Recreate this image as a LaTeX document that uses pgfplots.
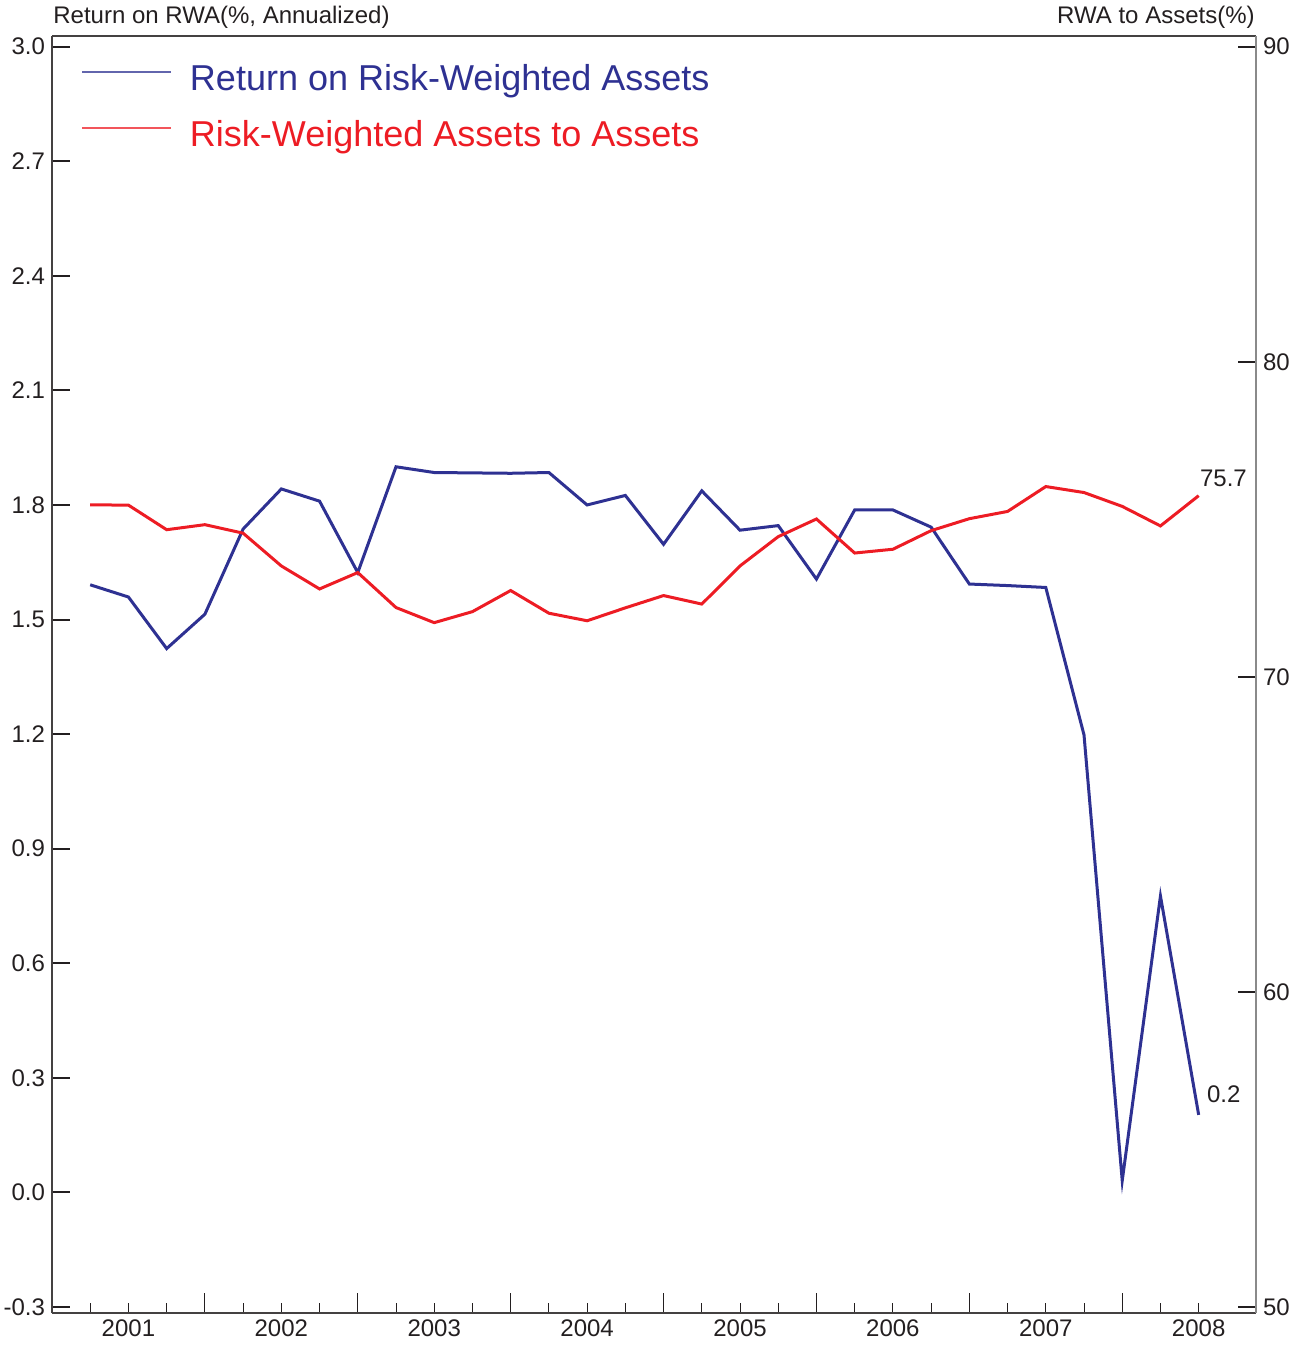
\documentclass[border=0pt]{standalone}
\usepackage{pgfplots}
\pgfplotsset{compat=1.18}
\usepackage{fontspec}
\setmainfont{Liberation Sans}
\definecolor{rblue}{HTML}{2E3192}
\definecolor{rred}{HTML}{ED1C24}
\definecolor{txt}{HTML}{231F20}
\definecolor{axgray}{HTML}{8A8A8A}
\begin{document}
\begin{tikzpicture}
\pgfplotsset{
  base/.style={scale only axis, width=602pt, height=638.5pt,
    xmin=0, xmax=31.5,
    /pgf/number format/assume math mode=true,
    tick label style={font=\fontsize{12}{14}\selectfont, text=txt},
    axis line style={line width=0.7pt, color=txt!85},
    clip=false},
  lefty/.style={ymin=-0.3157, ymax=3.028},
  righty/.style={ymin=49.81, ymax=90.34},
}
% axis 1: box (top, bottom, left), short x ticks with year labels, blue series, legend
\begin{axis}[base, lefty,
  axis x line*=box, axis y line*=left,
  ytick=\empty,
  xtick={1,...,30},
  xticklabels={,2001,,,,2002,,,,2003,,,,2004,,,,2005,,,,2006,,,,2007,,,,2008},
  xtick pos=bottom, xtick align=inside,
  major tick length=5pt,
  tick style={line width=0.5pt, color=txt},
  legend cell align=left,
  legend style={at={(rel axis cs:0,1)}, anchor=north west, xshift=14.5pt, yshift=-14.5pt,
    draw=none, fill=none, inner sep=0pt, row sep=11.5pt,
    nodes={inner sep=0pt, text height=12.5pt, text depth=4pt},
    font=\fontsize{18}{21}\selectfont},
  legend columns=1,
]
\coordinate (sw) at (rel axis cs:0,0);
\coordinate (ne) at (rel axis cs:1,1);
\addplot[rblue, line width=1.5pt, line join=miter, forget plot] coordinates {
(1,1.591) (2,1.559) (3,1.424) (4,1.514) (5,1.737) (6,1.842) (7,1.810) (8,1.623)
(9,1.900) (10,1.885) (11,1.884) (12,1.883) (13,1.885) (14,1.800) (15,1.825)
(16,1.697) (17,1.837) (18,1.734) (19,1.746) (20,1.606) (21,1.787) (22,1.787)
(23,1.742) (24,1.593) (25,1.589) (26,1.584) (27,1.198) (28,0.031) (29,0.776) (30,0.203)
};
\addlegendimage{legend image code/.code={\draw[color=rblue!75, line width=0.8pt] (0pt,5pt) -- (44.5pt,5pt);}}
\addlegendentry{\hspace{9pt}\textcolor{rblue}{Return on Risk-Weighted Assets}}
\addlegendimage{legend image code/.code={\draw[color=rred!75, line width=0.8pt] (0pt,5pt) -- (44.5pt,5pt);}}
\addlegendentry{\hspace{9pt}\textcolor{rred}{Risk-Weighted Assets to Assets}}
\node[anchor=base west, inner sep=0pt, font=\fontsize{12}{14}\selectfont, text=txt]
  at ([xshift=4pt, yshift=6pt]axis cs:30,0.203) {0.2};
\node[anchor=base west, inner sep=0pt, font=\fontsize{12}{14}\selectfont, text=txt]
  at ([xshift=0.5pt, yshift=6pt]rel axis cs:0,1) {Return on RWA(\%, Annualized)};
\end{axis}
% axis 2: left y ticks
\begin{axis}[base, lefty,
  axis x line=none, axis y line*=left,
  ytick={-0.3,0,0.3,0.6,0.9,1.2,1.5,1.8,2.1,2.4,2.7,3.0},
  yticklabels={-0.3,0.0,0.3,0.6,0.9,1.2,1.5,1.8,2.1,2.4,2.7,3.0},
  ytick pos=left, ytick align=inside,
  major tick length=9pt,
  tick style={line width=1pt, color=txt},
]
\end{axis}
% axis 4: long x ticks at year boundaries
\begin{axis}[base, lefty,
  axis x line*=bottom, axis y line=none,
  ytick=\empty,
  xtick={4,8,...,28}, xticklabels={},
  xtick align=inside,
  major tick length=10pt,
  tick style={line width=0.5pt, color=txt},
]
\end{axis}
% axis 3: right y axis with red series
\begin{axis}[base, righty,
  axis x line=none, axis y line*=right,
  y axis line style={color=axgray, line width=0.7pt},
  ytick={50,60,70,80,90},
  ytick pos=right, ytick align=inside,
  major tick length=9pt,
  tick style={line width=1pt, color=txt},
]
\addplot[rred, line width=1.5pt, line join=miter] coordinates {
(1,75.46) (2,75.45) (3,74.67) (4,74.83) (5,74.56) (6,73.52) (7,72.79) (8,73.31)
(9,72.20) (10,71.72) (11,72.07) (12,72.74) (13,72.02) (14,71.78) (15,72.19)
(16,72.58) (17,72.31) (18,73.52) (19,74.45) (20,75.01) (21,73.93) (22,74.05)
(23,74.64) (24,75.02) (25,75.25) (26,76.04) (27,75.85) (28,75.41) (29,74.79) (30,75.75)
};
\node[anchor=base west, inner sep=0pt, font=\fontsize{12}{14}\selectfont, text=txt]
  at ([xshift=0.5pt, yshift=4.5pt]axis cs:30,75.75) {75.7};
\node[anchor=base east, inner sep=0pt, font=\fontsize{12}{14}\selectfont, text=txt]
  at ([xshift=-0.5pt, yshift=6pt]rel axis cs:1,1) {RWA to Assets(\%)};
\end{axis}
\pgfresetboundingbox
\path[use as bounding box] ([shift={(-26pt,-16pt)}]sw) rectangle ([shift={(25pt,18pt)}]ne);
\end{tikzpicture}
\end{document}
